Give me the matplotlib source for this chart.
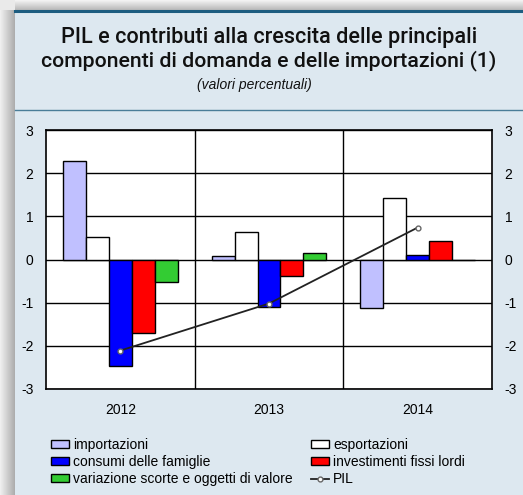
import numpy as np
import matplotlib.pyplot as plt

plt.rcParams['font.family'] = ['Liberation Sans', 'DejaVu Sans']
plt.rcParams['axes.unicode_minus'] = False

# Data (contributi alla crescita, punti percentuali)
anni = ["2012", "2013", "2014"]
importazioni = [2.28, 0.07, -1.13]
esportazioni = [0.51, 0.64, 1.43]
consumi = [-2.46, -1.11, 0.11]
investimenti = [-1.71, -0.39, 0.42]
variazione_scorte = [-0.53, 0.15, 0.0]
pil = [-2.11, -1.02, 0.74]

serie = [
    ("importazioni", importazioni, "#c0c0ff"),
    ("esportazioni", esportazioni, "#ffffff"),
    ("consumi delle famiglie", consumi, "#0000ff"),
    ("investimenti fissi lordi", investimenti, "#ff0000"),
    ("variazione scorte e oggetti di valore", variazione_scorte, "#33cc33"),
]

W, H = 523, 495
fig = plt.figure(figsize=(W / 100, H / 100), dpi=100)

# background: light-blue panel with gray shadow on left / top
bg = fig.add_axes([0, 0, 1, 1], zorder=-10)
img = np.ones((H, W, 3))
img[:, :] = np.array([221, 232, 240]) / 255
for i in range(15):
    img[:, i] = 0.94 - 0.26 * (i / 14)
for j in range(10):
    img[j, 15:] = 0.95 - 0.22 * (j / 9)
img[:10, :15] = 0.92
bg.imshow(img, extent=[0, W, H, 0], aspect="auto")
bg.plot([15, W], [10.5, 10.5], color="#1d5d80", lw=2.2)
bg.plot([15, W], [110, 110], color="#4a7d98", lw=1.0)
bg.set_xlim(0, W)
bg.set_ylim(H, 0)
bg.axis("off")

ax = fig.add_axes([46 / W, 1 - 389 / H, 446 / W, 259 / H])
x = np.arange(len(anni))
step = 0.154
for k, (nome, vals, col) in enumerate(serie):
    ax.bar(x + (k - 2) * step, vals, width=step, color=col,
           edgecolor="black", linewidth=1.0, label=nome, zorder=3)

ax.plot(x, pil, color="#222222", lw=1.3, marker="o", markersize=3.5,
        markerfacecolor="white", markeredgecolor="#666666", zorder=5, label="PIL")

ax.set_xlim(-0.5, 2.5)
ax.set_ylim(-3, 3)
ax.set_yticks(range(-3, 4))
ax.set_xticks(x)
ax.set_xticklabels(anni)
ax.grid(axis="y", color="black", lw=1.0, zorder=1)
for b in [0.5, 1.5]:
    ax.axvline(b, color="black", lw=1.0, zorder=1)
for s in ax.spines.values():
    s.set_linewidth(1.2)
ax.tick_params(axis="y", length=0, labelsize=10, labelright=True, pad=9)
ax.tick_params(axis="x", length=0, labelsize=10, pad=10)

title_font = ["Roboto", "DejaVu Sans"]
fig.text(0.514, 1 - 38 / H, "PIL e contributi alla crescita delle principali",
         ha="center", va="center", fontsize=15.6, family=title_font,
         weight="medium", color="#111111")
fig.text(0.514, 1 - 61 / H, "componenti di domanda e delle importazioni (1)",
         ha="center", va="center", fontsize=15.3, family=title_font,
         weight="medium", color="#111111")
fig.text(0.486, 1 - 85 / H, "(valori percentuali)",
         ha="center", va="center", fontsize=10, style="italic", color="#111111")

handles, labels = ax.get_legend_handles_labels()
order = ["importazioni", "consumi delle famiglie", "variazione scorte e oggetti di valore",
         "esportazioni", "investimenti fissi lordi", "PIL"]
hmap = dict(zip(labels, handles))
fig.legend([hmap[o] for o in order], order, ncol=2, frameon=False,
           loc="upper left", bbox_to_anchor=(44 / W, 1 - 431 / H),
           borderpad=0, fontsize=10, handlelength=1.3, handleheight=0.5,
           handletextpad=0.3, labelspacing=0.22, columnspacing=1.3)

fig.savefig("out.png", dpi=100)
